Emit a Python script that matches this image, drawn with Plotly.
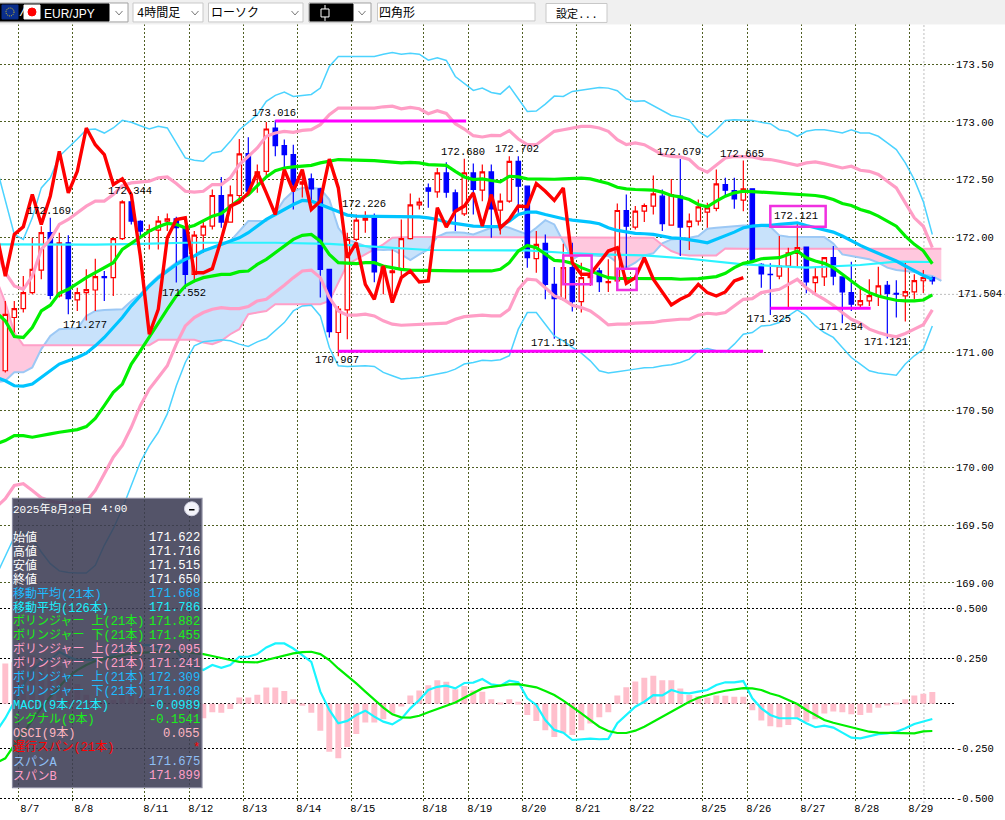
import plotly.graph_objects as go

# ---------------- data ----------------
bars = list(range(104))
line_bars = list(range(-1, 104))
opens = [170.841,171.303,171.381,171.519,171.715,172.039,171.49,171.952,171.456,171.519,
171.542,171.658,171.649,171.987,172.307,172.137,172.053,172.062,172.14,172.16,
172.082,171.678,172.018,172.096,172.362,172.131,172.362,172.725,172.552,172.572,
172.948,172.795,172.717,172.46,172.506,172.42,171.721,171.173,171.369,171.981,
172.148,172.163,171.692,171.692,171.727,171.987,172.281,172.428,172.394,172.558,
172.385,172.203,172.558,172.408,172.567,172.235,172.313,172.659,172.443,171.814,
171.946,171.591,171.461,171.736,171.441,171.649,171.707,171.606,171.62,172.232,
172.088,172.226,172.27,172.356,172.105,172.356,172.091,172.14,172.218,172.25,
172.457,172.405,172.321,172.42,171.764,171.678,171.663,171.75,171.86,171.915,
171.606,171.655,171.822,171.655,171.519,171.412,171.447,171.49,171.583,171.513,
171.49,171.525,171.622,171.65]
highs = [171.447,171.447,171.663,171.995,172.096,172.169,172.039,172.016,171.562,171.721,
171.813,171.707,171.995,172.32,172.344,172.148,172.111,172.183,172.206,172.177,
172.096,172.053,172.14,172.414,172.523,172.448,172.852,172.867,172.63,173.0,
173.016,172.847,172.803,172.55,172.552,172.43,171.721,171.404,172.039,172.197,
172.226,172.206,171.75,171.894,172.154,172.379,172.342,172.466,172.601,172.65,
172.414,172.68,172.639,172.63,172.63,172.379,172.702,172.702,172.448,172.053,
172.024,171.741,171.943,171.952,171.779,171.704,171.736,171.808,172.293,172.371,
172.27,172.293,172.535,172.414,172.506,172.679,172.206,172.327,172.298,172.587,
172.515,172.515,172.665,172.42,171.773,171.773,172.01,171.909,172.121,171.915,
171.736,171.828,171.923,171.655,171.787,171.554,171.635,171.744,171.62,171.626,
171.779,171.678,171.716,171.66]
lows = [170.826,171.173,171.346,171.505,171.635,171.461,171.476,171.331,171.36,171.277,
171.36,171.447,171.49,171.975,172.11,172.01,171.894,171.894,172.053,171.606,
171.552,171.61,171.865,172.067,172.082,172.125,172.298,172.385,172.385,172.515,
172.702,172.601,172.241,172.345,172.298,171.476,171.13,170.967,171.115,171.966,
172.039,171.61,171.505,171.49,171.663,171.981,172.241,172.255,172.342,172.342,
172.053,172.183,172.197,172.313,171.995,172.024,172.298,172.212,171.736,171.692,
171.461,171.119,171.447,171.355,171.346,171.577,171.525,171.525,171.534,171.721,
172.067,172.131,172.197,172.053,172.102,171.837,171.889,172.102,172.082,172.226,
172.35,172.246,172.226,171.793,171.562,171.325,171.635,171.375,171.736,171.513,
171.519,171.577,171.583,171.254,171.36,171.389,171.404,171.404,171.121,171.303,
171.268,171.461,171.515,171.59]
closes = [171.331,171.381,171.519,171.721,172.039,171.496,171.952,171.467,171.519,171.545,
171.658,171.649,171.987,172.307,172.14,172.053,172.067,172.14,172.16,172.082,
171.678,172.018,172.096,172.362,172.131,172.368,172.723,172.399,172.567,172.939,
172.795,172.717,172.457,172.48,172.42,171.721,171.181,171.375,171.981,172.148,
172.168,171.698,171.736,171.707,171.987,172.281,172.304,172.399,172.558,172.391,
172.226,172.558,172.414,172.567,172.246,172.313,172.659,172.443,171.822,171.938,
171.591,171.467,171.736,171.441,171.649,171.669,171.614,171.614,172.232,172.096,
172.226,172.275,172.376,172.117,172.37,172.088,172.14,172.264,172.255,172.463,
172.408,172.333,172.42,171.793,171.681,171.675,171.75,171.865,171.909,171.612,
171.655,171.822,171.663,171.525,171.418,171.45,171.493,171.577,171.513,171.505,
171.528,171.623,171.65,171.62]

boll3_up = [172.616,172.327,172.024,171.981,172.168,172.428,172.515,172.702,172.775,172.852,172.933,
172.939,172.904,172.948,173.014,172.997,172.968,172.939,172.962,172.948,172.818,
172.688,172.668,172.659,172.731,172.746,172.832,172.933,172.997,173.063,173.179,
173.231,173.259,173.222,173.231,173.239,173.294,173.482,173.568,173.568,173.568,
173.568,173.568,173.588,173.603,173.588,173.597,173.588,173.536,173.557,173.534,
173.395,173.337,173.274,173.294,173.256,173.242,173.311,173.202,173.092,173.095,
173.155,173.225,173.222,173.265,173.277,173.294,173.3,173.294,173.271,173.202,
173.179,173.184,173.144,173.104,173.057,173.04,173.017,172.919,172.87,172.933,
173.014,173.02,173.02,173.014,172.997,172.985,172.933,172.919,172.876,172.919,
172.933,172.933,172.919,172.904,172.933,172.904,172.904,172.876,172.818,172.76,
172.645,172.5,172.309,172.024]
boll2_up = [171.894,171.692,171.577,171.548,171.663,171.894,171.981,172.111,172.154,172.212,172.27,
172.313,172.313,172.37,172.448,172.471,172.477,172.486,172.515,172.523,172.466,
172.399,172.391,172.399,172.457,172.457,172.515,172.63,172.702,172.775,172.876,
172.904,172.919,172.91,172.927,172.933,172.977,173.063,173.121,173.121,173.121,
173.121,173.121,173.132,173.138,173.115,173.127,173.115,173.072,173.098,173.075,
172.985,172.939,172.881,172.87,172.884,172.881,172.925,172.852,172.803,172.803,
172.861,172.919,172.933,172.948,172.962,172.962,172.948,172.919,172.847,172.803,
172.818,172.803,172.76,172.717,172.702,172.697,172.674,172.601,172.564,172.624,
172.688,172.702,172.702,172.697,172.679,172.674,172.659,172.645,172.624,172.645,
172.653,172.639,172.622,172.601,172.616,172.581,172.572,172.544,172.486,172.428,
172.298,172.168,172.095,171.909]
boll1_up = [171.346,171.274,171.138,171.13,171.216,171.36,171.41,171.513,171.548,171.6,171.649,
171.692,171.736,171.779,171.894,171.946,171.995,172.053,172.091,172.119,172.111,
172.082,172.102,172.14,172.183,172.206,172.27,172.327,172.37,172.443,172.523,
172.578,172.601,172.61,172.616,172.624,172.645,172.659,172.674,172.671,172.671,
172.671,172.665,172.659,172.653,172.645,172.65,172.645,172.63,172.624,172.624,
172.572,172.523,172.5,172.506,172.492,172.48,172.529,172.523,172.506,172.503,
172.5,172.503,172.506,172.509,172.512,172.506,172.486,172.466,172.434,172.42,
172.414,172.411,172.408,172.391,172.362,172.35,172.327,172.284,172.264,172.313,
172.356,172.385,172.399,172.396,172.391,172.388,172.382,172.376,172.37,172.365,
172.362,172.35,172.327,172.293,172.275,172.241,172.218,172.183,172.14,172.096,
172.01,171.938,171.882,171.77]
ma21 = [170.783,170.754,170.711,170.708,170.725,170.783,170.835,170.899,170.927,170.956,170.994,
171.057,171.13,171.216,171.303,171.404,171.49,171.577,171.649,171.707,171.764,
171.808,171.837,171.88,171.909,171.938,171.966,171.995,172.039,172.096,172.154,
172.197,172.241,172.284,172.319,172.313,172.284,172.255,172.22,172.192,172.183,
172.183,172.183,172.183,172.177,172.183,172.177,172.177,172.168,172.154,172.131,
172.117,172.105,172.096,172.093,172.091,172.091,172.14,172.197,172.218,172.218,
172.197,172.177,172.16,172.148,172.14,172.131,172.117,172.082,172.059,172.047,
172.033,172.03,172.024,172.01,171.995,171.99,171.981,171.966,171.952,171.981,
172.01,172.044,172.082,172.096,172.102,172.102,172.111,172.117,172.125,172.102,
172.082,172.067,172.044,172.01,171.966,171.929,171.894,171.86,171.831,171.793,
171.75,171.707,171.668,171.635]
ma126_bars = [-1,0,5,10,15,20,25,30,36,40,47,58,62,66,71,76,82,89,95,99,103]
ma126 = [171.938,171.938,171.932,171.935,171.943,171.952,171.952,171.952,171.943,171.923,171.889,
171.886,171.865,171.851,171.842,171.813,171.764,171.736,171.759,171.788,171.785]
boll1_dn = [170.206,170.235,170.278,170.278,170.264,170.275,170.293,170.307,170.316,170.33,170.356,
170.428,170.538,170.653,170.725,170.899,171.014,171.13,171.254,171.375,171.49,
171.577,171.62,171.649,171.663,171.678,171.678,171.701,171.707,171.764,171.808,
171.865,171.929,171.981,172.016,172.024,171.966,171.851,171.779,171.773,171.77,
171.779,171.779,171.75,171.736,171.721,171.715,171.712,171.709,171.707,171.707,
171.707,171.707,171.707,171.707,171.707,171.721,171.779,171.88,171.929,171.909,
171.851,171.799,171.793,171.773,171.736,171.707,171.678,171.649,171.643,171.643,
171.643,171.64,171.64,171.64,171.64,171.635,171.635,171.64,171.649,171.658,
171.687,171.736,171.773,171.788,171.813,171.819,171.822,171.851,171.88,171.822,
171.793,171.773,171.736,171.678,171.62,171.562,171.519,171.49,171.47,171.453,
171.447,171.447,171.455,171.499]
boll2_dn = [169.658,169.73,169.845,169.86,169.802,169.738,169.71,169.695,169.692,169.695,169.707,
169.802,169.946,170.091,170.192,170.35,170.538,170.682,170.783,170.884,171.072,
171.23,171.303,171.346,171.375,171.389,171.381,171.381,171.398,171.447,171.461,
171.519,171.583,171.649,171.707,171.715,171.649,171.476,171.36,171.323,171.323,
171.332,171.317,171.274,171.245,171.236,171.239,171.245,171.245,171.254,171.254,
171.288,171.311,171.317,171.323,171.317,171.317,171.375,171.548,171.635,171.629,
171.562,171.49,171.461,171.41,171.389,171.36,171.303,171.239,171.245,171.245,
171.254,171.257,171.26,171.274,171.282,171.288,171.288,171.323,171.34,171.332,
171.346,171.404,171.461,171.467,171.519,171.534,171.548,171.591,171.635,171.562,
171.505,171.461,171.41,171.346,171.288,171.254,171.202,171.173,171.15,171.135,
171.164,171.202,171.241,171.369]
boll3_dn = [169.066,169.225,169.398,169.441,169.384,169.268,169.167,169.104,169.089,169.086,169.086,
169.153,169.326,169.47,169.643,169.845,170.047,170.192,170.307,170.466,170.711,
170.913,171.057,171.092,171.101,171.109,171.101,171.072,171.052,171.092,171.121,
171.187,171.259,171.36,171.404,171.41,171.317,171.043,170.884,170.878,170.884,
170.884,170.878,170.827,170.798,170.769,170.775,170.783,170.798,170.812,170.827,
170.855,170.899,170.913,170.933,170.927,170.936,170.971,171.202,171.346,171.346,
171.245,171.144,171.101,171.043,170.994,170.927,170.841,170.821,170.832,170.841,
170.855,170.867,170.87,170.884,170.893,170.913,170.942,171.014,171.034,171.014,
171.0,171.072,171.158,171.173,171.23,171.236,171.259,171.317,171.369,171.317,
171.23,171.173,171.13,171.043,170.956,170.899,170.841,170.821,170.812,170.803,
170.899,170.971,171.028,171.23]
chikou = [172.039,171.663,172.024,172.091,172.37,172.111,172.356,172.746,172.385,172.572,172.948,
172.803,172.717,172.457,172.506,172.37,171.837,171.158,171.375,171.995,172.154,
172.168,171.692,171.692,171.727,171.981,172.27,172.304,172.385,172.564,172.385,
172.197,172.587,172.399,172.587,172.241,172.313,172.679,172.428,171.822,171.952,
171.591,171.461,171.75,171.433,171.649,171.707,171.611,171.62,172.255,172.088,
172.226,172.27,172.385,172.096,172.37,172.082,172.154,172.27,172.264,172.466,
172.399,172.319,172.428,171.779,171.678,171.678,171.779,171.88,171.909,171.6,
171.649,171.822,171.635,171.519,171.412,171.461,171.499,171.591,171.519,171.49,
171.525,171.62,171.649]
span_a = [170.74,170.754,170.827,170.827,170.87,171.029,171.144,171.202,171.207,171.207,171.317,
171.36,171.369,171.375,171.375,171.447,171.505,171.591,171.663,171.721,171.779,
171.822,171.851,171.889,171.909,171.938,171.966,172.053,172.14,172.14,172.14,
172.212,172.327,172.399,172.428,172.428,172.42,172.327,172.082,171.981,171.952,
171.917,171.894,171.889,171.894,171.851,171.802,171.851,171.894,172.004,172.039,
172.044,172.039,172.024,172.053,172.082,172.102,172.082,172.053,172.024,172.082,
172.148,172.111,171.966,171.808,171.851,171.842,171.837,171.837,171.779,171.736,
171.779,171.842,171.86,171.946,171.981,171.987,171.995,172.01,172.073,172.082,
172.091,172.096,172.102,172.102,172.099,172.091,172.016,172.004,172.004,172.004,
172.004,172.001,171.946,171.851,171.837,171.822,171.808,171.779,171.736,171.715,
171.707,171.698,171.675,171.663,171.62]
span_b = [171.635,171.433,171.173,171.063,171.063,171.063,171.063,171.063,171.063,171.063,171.063,
171.063,171.063,171.063,171.063,171.063,171.063,171.063,171.109,171.109,171.109,
171.109,171.109,171.086,171.072,171.101,171.158,171.202,171.332,171.346,171.36,
171.418,171.418,171.418,171.418,171.418,171.418,171.447,171.606,171.764,171.808,
171.851,171.894,171.938,171.995,172.001,172.001,172.001,172.001,172.001,172.001,
172.001,172.001,172.001,172.001,172.001,172.001,172.001,172.001,172.001,172.001,
172.001,172.001,172.001,172.001,172.001,172.001,172.001,172.001,172.001,172.001,
172.001,172.001,171.995,171.932,171.88,171.851,171.842,171.842,171.842,171.842,
171.903,171.899,171.899,171.899,171.899,171.899,171.899,171.899,171.899,171.899,
171.899,171.899,171.899,171.899,171.899,171.899,171.899,171.899,171.899,171.899,
171.899,171.899,171.899,171.899,171.899]

macd_hist = [0.224,0.23,0.24,0.27,0.24,0.24,0.21,0.16,0.11,0.05,
0.02,0.0,0.02,0.06,0.055,0.05,0.03,0.0,0.0,-0.01,
-0.03,-0.06,-0.081,-0.048,-0.05,-0.03,0.035,0.035,0.05,0.09,
0.09,0.07,0.025,-0.011,-0.05,-0.15,-0.267,-0.304,-0.241,-0.169,
-0.104,-0.104,-0.087,-0.054,-0.015,0.046,0.074,0.102,0.13,0.122,
0.08,0.098,0.074,0.067,0.024,0.002,0.024,0.011,-0.063,-0.096,
-0.148,-0.185,-0.165,-0.174,-0.148,-0.11,-0.076,-0.048,0.046,0.091,
0.124,0.144,0.156,0.13,0.13,0.085,0.048,0.041,0.035,0.046,
0.044,0.039,0.039,-0.037,-0.094,-0.126,-0.131,-0.119,-0.078,-0.1,
-0.087,-0.054,-0.044,-0.048,-0.059,-0.063,-0.05,-0.022,-0.009,0.006,
0.024,0.045,0.055,0.065]
macd_line = [-0.155,-0.081,0.011,0.104,0.187,0.233,0.243,0.289,0.261,0.243,0.243,
0.243,0.252,0.27,0.311,0.326,0.326,0.326,0.311,0.298,0.289,
0.233,0.206,0.187,0.215,0.2,0.215,0.261,0.261,0.276,0.313,
0.335,0.335,0.307,0.27,0.233,0.067,-0.035,-0.109,-0.096,-0.063,
-0.039,-0.072,-0.1,-0.115,-0.085,-0.026,0.02,0.076,0.094,0.1,
0.085,0.115,0.117,0.137,0.107,0.1,0.128,0.119,0.03,-0.007,
-0.091,-0.146,-0.161,-0.202,-0.2,-0.194,-0.198,-0.196,-0.109,-0.063,
-0.017,0.011,0.048,0.046,0.076,0.061,0.057,0.067,0.076,0.104,
0.119,0.119,0.126,0.03,-0.026,-0.063,-0.081,-0.081,-0.081,-0.109,
-0.131,-0.122,-0.133,-0.161,-0.189,-0.193,-0.183,-0.169,-0.165,-0.156,
-0.137,-0.113,-0.0989,-0.085]
signal_line = [-0.33,-0.304,-0.23,-0.165,-0.091,-0.026,0.039,0.094,0.15,0.187,0.215,
0.237,0.248,0.261,0.27,0.28,0.283,0.285,0.289,0.294,0.293,
0.287,0.283,0.276,0.265,0.252,0.243,0.233,0.23,0.23,0.243,
0.256,0.27,0.28,0.287,0.289,0.276,0.243,0.196,0.156,0.113,
0.067,0.02,-0.022,-0.059,-0.076,-0.078,-0.067,-0.048,-0.03,-0.011,
0.007,0.033,0.061,0.085,0.094,0.102,0.107,0.109,0.102,0.091,
0.07,0.048,0.017,-0.017,-0.054,-0.091,-0.128,-0.152,-0.163,-0.163,
-0.15,-0.128,-0.1,-0.072,-0.041,-0.013,0.011,0.033,0.048,0.061,
0.072,0.08,0.087,0.085,0.076,0.057,0.043,0.02,-0.002,-0.035,
-0.063,-0.091,-0.106,-0.119,-0.131,-0.144,-0.156,-0.161,-0.163,-0.165,
-0.167,-0.165,-0.154,-0.152]

date_bars = [1.5,7.5,15.5,20.5,26.5,32.5,38.5,46.5,51.5,57.5,63.5,69.5,77.5,82.5,88.5,94.5,100.5]
date_labels = ["8/7","8/8","8/11","8/12","8/13","8/14","8/15","8/18","8/19","8/20","8/21","8/22","8/25","8/26","8/27","8/28","8/29"]
price_ticks = [173.5,173.0,172.5,172.0,171.0,170.5,170.0,169.5,169.0]
price_labels = ["173.50","173.00","172.50","172.00","171.00","170.50","170.00","169.50","169.00"]
last_price = 171.504
macd_ticks = [0.528,0.25,0.0,-0.25,-0.528]
macd_labels = ["0.500","0.250","","-0.250","-0.500"]
cursor_bar = 102.07

high_labels = [(5,172.169),(14,172.344),(30,173.016),(40,172.226),(51,172.68),(57,172.702),(75,172.679),(82,172.665),(88,172.121)]
low_labels = [(9,171.277),(20,171.552),(37,170.967),(61,171.119),(85,171.325),(93,171.254),(98,171.121)]

hlines = [((30,51.2),173.008),((37,84.2),171.01),((85,96.15),171.384)]
boxes = [((85,91.15),(172.09,172.27)),((62,65.15),(171.591,171.842)),((68,70.15),(171.542,171.727))]

info_rows = [
 ("始値","171.622","#FFFFFF"),("高値","171.716","#FFFFFF"),("安値","171.515","#FFFFFF"),("終値","171.650","#FFFFFF"),
 ("移動平均(21本)","171.668","#1EBBFF"),("移動平均(126本)","171.786","#19F0FF"),
 ("ボリンジャー 上(21本)","171.882","#19F019"),("ボリンジャー 下(21本)","171.455","#19F019"),
 ("ボリンジャー 上(21本)","172.095","#FF9FC8"),("ボリンジャー 下(21本)","171.241","#FF9FC8"),
 ("ボリンジャー 上(21本)","172.309","#1EBBFF"),("ボリンジャー 下(21本)","171.028","#1EBBFF"),
 ("MACD(9本/21本)","-0.0989","#19F0FF"),("シグナル(9本)","-0.1541","#19F019"),("OSCI(9本)","0.055","#FFB6C1"),
 ("遅行スパン(21本)","*","#FF0000"),("スパンA","171.675","#8FBFF5"),("スパンB","171.899","#FF9FC8"),
]

# ---------------- figure ----------------
W, H = 1005, 820
def xp(px): return px / W
def yp(py): return 1 - py / H

MONO = "Liberation Mono"
JP = "Liberation Mono, Noto Sans CJK JP"
GRID = "#4F5F22"

fig = go.Figure()

# cloud: split into same-sign runs
cloud_x = list(range(-1, len(span_a) - 1))
def runs(xs, a, b):
    out, rx, ra, rb = [], [xs[0]], [a[0]], [b[0]]
    for k in range(len(a) - 1):
        d0, d1 = a[k] - b[k], a[k + 1] - b[k + 1]
        if d0 * d1 < 0:
            t = d0 / (d0 - d1)
            cx, cy = xs[k] + t, a[k] + t * (a[k + 1] - a[k])
            rx.append(cx); ra.append(cy); rb.append(cy)
            out.append((rx, ra, rb))
            rx, ra, rb = [cx], [cy], [cy]
        rx.append(xs[k + 1]); ra.append(a[k + 1]); rb.append(b[k + 1])
    out.append((rx, ra, rb))
    return out
for rx, ra, rb in runs(cloud_x, span_a, span_b):
    up = sum(ra) >= sum(rb)
    fig.add_trace(go.Scatter(x=rx + rx[::-1], y=ra + rb[::-1], fill="toself", mode="none",
                             fillcolor="#C8E2FB" if up else "#FFC8DE", hoverinfo="skip", yaxis="y"))
fig.add_trace(go.Scatter(x=cloud_x, y=span_a, mode="lines", line=dict(color="#9CC8F5", width=2), hoverinfo="skip", yaxis="y"))
fig.add_trace(go.Scatter(x=cloud_x, y=span_b, mode="lines", line=dict(color="#FF9FC8", width=2), hoverinfo="skip", yaxis="y"))

# candles on an overlay axis so that they sit above the cloud
fig.add_trace(go.Candlestick(x=bars, open=opens, high=highs, low=lows, close=closes, yaxis="y3",
    increasing=dict(line=dict(color="#FF0000", width=1.2), fillcolor="#FFFFFF"),
    decreasing=dict(line=dict(color="#0000FF", width=1.2), fillcolor="#0000FF"),
    whiskerwidth=0, hoverinfo="skip"))

# indicator lines on a second overlay
def line(y, color, width, x=line_bars, axis="y4"):
    fig.add_trace(go.Scatter(x=x[:len(y)], y=y, mode="lines", line=dict(color=color, width=width),
                             hoverinfo="skip", yaxis=axis))
line(boll3_up, "#4CD3FF", 1.5)
line(boll3_dn, "#4CD3FF", 1.5)
line(ma126, "#2CF3FF", 2.2, x=ma126_bars)
line(boll2_up, "#FF9EC6", 3.2)
line(boll2_dn, "#FF9EC6", 3.2)
line(ma21, "#00C4FF", 3.2)
line(boll1_up, "#00F000", 3.2)
line(boll1_dn, "#00F000", 3.2)
line(chikou, "#FF0000", 3.4)
for (x0, x1), y in hlines:
    line([y, y], "#FF00FF", 3, x=[x0, x1])

# MACD panel
fig.add_trace(go.Bar(x=bars, y=macd_hist, marker=dict(color="#FFBFCC", line=dict(width=0)), width=0.66,
                     hoverinfo="skip", yaxis="y2"))
line(macd_line, "#19F5FF", 2.2, axis="y2")
line(signal_line, "#00EE00", 2.2, axis="y2")

main_range = [168.864, 173.851]
shapes, annos = [], []

def rect(x0, y0, x1, y1, fill, border=None, lw=1):
    shapes.append(dict(type="rect", xref="paper", yref="paper", x0=xp(x0), x1=xp(x1), y0=yp(y1), y1=yp(y0),
                       fillcolor=fill, line=dict(color=border or fill, width=lw), layer="above"))
def text(x, y, s, color="#000000", size=12, fam=JP, anchor="left"):
    annos.append(dict(xref="paper", yref="paper", x=xp(x), y=yp(y), text=s, showarrow=False, xanchor=anchor,
                      yanchor="middle", font=dict(color=color, size=size, family=fam), borderpad=0, borderwidth=0))
def chevron(cx, cy):
    shapes.append(dict(type="path", xref="paper", yref="paper",
                       path=f"M{xp(cx-3.5)},{yp(cy-2)} L{xp(cx)},{yp(cy+2)} L{xp(cx+3.5)},{yp(cy-2)}",
                       line=dict(color="#777777", width=1), layer="above"))

# reference lines
shapes.append(dict(type="line", xref="paper", yref="y", x0=0, x1=1, y0=last_price, y1=last_price,
                   line=dict(color="#BDBDBD", width=1, dash="2px,2px"), layer="below"))
shapes.append(dict(type="line", xref="x", yref="paper", x0=cursor_bar, x1=cursor_bar, y0=yp(805), y1=yp(24),
                   line=dict(color="#BDBDBD", width=1, dash="2px,2px"), layer="below"))

# magenta boxes
for (x0, x1), (y0, y1) in boxes:
    shapes.append(dict(type="rect", xref="x", yref="y", x0=x0, x1=x1, y0=y0, y1=y1,
                       line=dict(color="#F030E0", width=2.5), fillcolor="rgba(0,0,0,0)", layer="above"))

# toolbar
rect(0, 0, W, 24, "#F0F0F0")
rect(-2, 3, 128, 22, "#FFFFFF", "#A0A0A0")
rect(-2, 4, 109, 21, "#000000")
rect(2, 5, 18, 19, "#0A2E8C")
shapes.append(dict(type="circle", xref="paper", yref="paper", x0=xp(6), x1=xp(14), y0=yp(16), y1=yp(8),
                   line=dict(color="#E8D020", width=1, dash="1px,1px"), fillcolor="rgba(0,0,0,0)", layer="above"))
text(19, 13.5, "/", "#FFFFFF", 12)
rect(24, 5, 40, 19, "#FFFFFF")
shapes.append(dict(type="circle", xref="paper", yref="paper", x0=xp(28), x1=xp(36), y0=yp(16), y1=yp(8),
                   line=dict(color="#FF0000", width=1), fillcolor="#FF0000", layer="above"))
text(44, 14, "EUR/JPY", "#FFFFFF", 12, "Liberation Sans")
chevron(119, 13)
rect(133, 3, 203, 22, "#FFFFFF", "#C8C8C8")
text(137, 13.5, "4時間足", "#000000", 12)
chevron(195, 13)
rect(208.5, 3, 303, 22, "#FFFFFF", "#C8C8C8")
text(211, 13.5, "ローソク", "#000000", 12)
chevron(295, 13)
rect(309, 3, 371, 22, "#FFFFFF", "#A0A0A0")
rect(310, 4, 353, 21, "#000000")
shapes.append(dict(type="line", xref="paper", yref="paper", x0=xp(325), x1=xp(325), y0=yp(21), y1=yp(5),
                   line=dict(color="#FFFFFF", width=1), layer="above"))
rect(321, 9, 329, 17, "#000000", "#FFFFFF")
chevron(362, 13)
rect(377.5, 3, 535, 21, "#FFFFFF", "#C8C8C8")
text(379, 13.5, "四角形", "#000000", 12)
rect(546, 3.5, 607, 22.5, "#FFFFFF", "#C8C8C8")
text(576.5, 14.5, "設定...", "#000000", 11, anchor="center")

# high / low labels
for i, v in high_labels:
    annos.append(dict(x=i, y=v, xref="x", yref="y", text=f"{v:.3f}", showarrow=False, xanchor="center", yanchor="middle",
                      xshift=-1.5, yshift=7, font=dict(color="#000000", size=10.5, family=MONO)))
for i, v in low_labels:
    annos.append(dict(x=i, y=v, xref="x", yref="y", text=f"{v:.3f}", showarrow=False, xanchor="center", yanchor="middle",
                      xshift=-1.5, yshift=-4, font=dict(color="#000000", size=10.5, family=MONO)))
annos.append(dict(xref="paper", yref="y", x=xp(956), y=last_price, text=f"{last_price:.3f}", showarrow=False, xanchor="left",
                  yanchor="middle", font=dict(color="#000000", size=10.5, family=MONO)))

# info panel
rect(12.5, 499.5, 202, 789.5, "rgba(60,60,84,0.88)", "#8C8CA0", 1.2)
text(13, 510.5, "2025年8月29日", "#FFFFFF", 11)
text(101, 510.5, "4:00", "#FFFFFF", 11)
shapes.append(dict(type="circle", xref="paper", yref="paper", x0=xp(184.5), x1=xp(199), y0=yp(517), y1=yp(503),
                   fillcolor="#F4F4FA", line=dict(color="#D0D0E0", width=1), layer="above"))
shapes.append(dict(type="line", xref="paper", yref="paper", x0=xp(189), x1=xp(194.5), y0=yp(511), y1=yp(511),
                   line=dict(color="#000000", width=1.5), layer="above"))
row_y = [539.5 + 14 * k for k in range(18)]
row_y[16] += 0.7; row_y[17] += 0.5
for (lab, val, col), y in zip(info_rows, row_y):
    text(13, y, lab, col, 12)
    text(199.5, y, val, col, 12.2, anchor="right")

fig.update_layout(
    width=W, height=H, margin=dict(l=0, r=0, t=0, b=0, pad=0), paper_bgcolor="#FFFFFF", plot_bgcolor="#FFFFFF",
    showlegend=False, hovermode=False, boxgap=0.3, barmode="overlay", shapes=shapes, annotations=annos,
    xaxis=dict(domain=[0, 955 / W], range=[-0.589, 105.52], anchor="y2", rangeslider=dict(visible=False),
               tickmode="array", tickvals=date_bars, ticktext=date_labels, ticks="", ticklabelshift=11, ticklabelstandoff=-3,
               tickfont=dict(family=MONO, size=10.5, color="#000000"), showgrid=True, gridcolor=GRID, griddash="2px,2px",
               gridwidth=1, zeroline=False, showline=False),
    yaxis=dict(domain=[220 / H, 796 / H], range=main_range, side="right", anchor="x", tickmode="array",
               tickvals=price_ticks, ticktext=price_labels, ticks="", tickfont=dict(family=MONO, size=10.5, color="#000000"),
               showgrid=True, gridcolor=GRID, griddash="2px,2px", gridwidth=1, zeroline=False, showline=False),
    yaxis3=dict(overlaying="y", range=main_range, visible=False, side="right", anchor="x"),
    yaxis4=dict(overlaying="y", range=main_range, visible=False, side="right", anchor="x"),
    yaxis2=dict(domain=[15 / H, 220 / H], range=[-0.5528, 0.585], side="right", anchor="x", tickmode="array",
                tickvals=macd_ticks, ticktext=macd_labels, ticks="", tickfont=dict(family=MONO, size=10.5, color="#000000"),
                showgrid=True, gridcolor="#000000", griddash="2px,2px", gridwidth=1, zeroline=False, showline=False),
)

fig.write_html("out.html", config=dict(displayModeBar=False),
               post_script="document.body.style.margin='0';document.body.style.overflow='hidden';")
